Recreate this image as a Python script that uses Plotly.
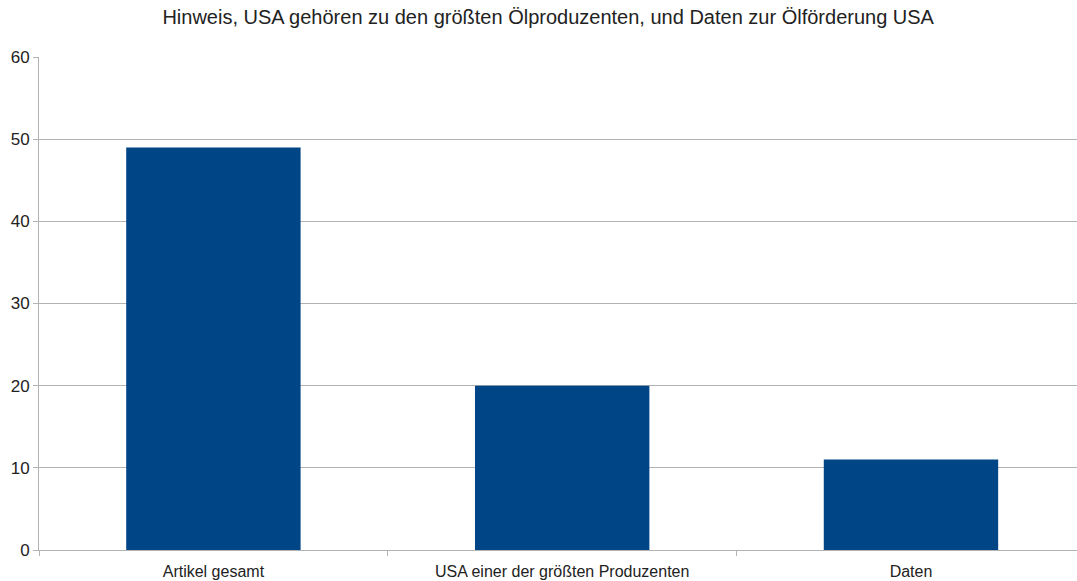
import plotly.graph_objects as go

categories = ["Artikel gesamt", "USA einer der größten Produzenten", "Daten"]
values = [49, 20, 11]
y_ticks = [0, 10, 20, 30, 40, 50, 60]
title_text = "Hinweis, USA gehören zu den größten Ölproduzenten, und Daten zur Ölförderung USA"

fig = go.Figure(
    go.Bar(
        x=categories,
        y=values,
        marker=dict(color="#004586", line=dict(width=0)),
        hoverinfo="x+y",
    )
)

fig.update_layout(
    width=1077,
    height=581,
    margin=dict(l=38.5, r=0, t=56.5, b=30.5),
    paper_bgcolor="white",
    plot_bgcolor="white",
    bargap=0.5,
    showlegend=False,
    font=dict(family="Liberation Sans, Arial, sans-serif", size=16, color="#222222"),
    title=dict(
        text=title_text,
        x=0.509,
        xanchor="center",
        y=0.970,
        yanchor="middle",
        font=dict(size=20, color="#222222"),
    ),
    xaxis=dict(
        type="category",
        range=[-0.5, 2.476],
        showgrid=False,
        showline=True,
        linecolor="#b3b3b3",
        linewidth=1,
        ticks="outside",
        tickson="boundaries",
        ticklen=5,
        tickcolor="#b3b3b3",
        tickfont=dict(size=16),
        ticklabelstandoff=7,
        zeroline=False,
    ),
    yaxis=dict(
        range=[0, 60],
        tickvals=y_ticks,
        showgrid=True,
        gridcolor="#b3b3b3",
        gridwidth=1,
        showline=True,
        linecolor="#b3b3b3",
        linewidth=1,
        ticks="outside",
        ticklen=5,
        tickcolor="#b3b3b3",
        tickfont=dict(size=17),
        zeroline=False,
    ),
)

fig.write_html("out.html")
